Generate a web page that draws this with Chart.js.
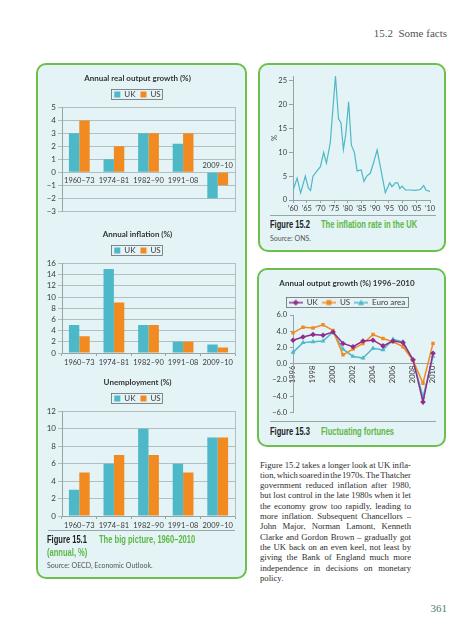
<!DOCTYPE html>
<html><head><meta charset="utf-8">
<script src="https://cdn.jsdelivr.net/npm/chart.js@4.4.1/dist/chart.umd.min.js"></script>
<style>
html,body{margin:0;padding:0;background:#fff;width:476px;height:640px;overflow:hidden;}
body{position:relative;font-family:Lato,"DejaVu Sans",sans-serif;}
.panel{position:absolute;background:#e4f3f5;border:2px solid #6dbf4b;border-radius:10px;box-sizing:border-box;}
canvas{position:absolute;}
.rule{position:absolute;height:0;border-top:1px solid #98a6a8;}
.cap{position:absolute;font-family:"Liberation Sans",Arial,sans-serif;font-weight:bold;font-size:10.5px;line-height:12px;color:#222;white-space:nowrap;transform:scaleX(0.72);transform-origin:0 0;}
.g{color:#5db845;}
.src{position:absolute;font-family:Lato,"DejaVu Sans",sans-serif;font-size:7px;line-height:9px;color:#555;white-space:nowrap;}
.body{position:absolute;left:260px;top:459.5px;width:151px;font-family:"Liberation Serif",serif;font-size:8.7px;line-height:10.33px;color:#2e2e2e;word-spacing:-1.5px;}
.body div{text-align:justify;text-align-last:justify;height:10.33px;}
.body div.last{text-align:left;text-align-last:left;}
</style>
</head><body>
<div style="position:absolute;right:29px;top:26.5px;font-family:'Liberation Serif',serif;font-size:11px;line-height:13px;color:#555;white-space:nowrap;">15.2&nbsp;&nbsp;Some facts</div>

<div class="panel" style="left:36px;top:63px;width:211px;height:516px;"></div>
<div class="panel" style="left:258px;top:63px;width:188px;height:189px;"></div>
<div class="panel" style="left:257px;top:268px;width:189px;height:179px;"></div>

<canvas id="c1" width="202" height="150" style="left:40px;top:68px;"></canvas>
<canvas id="c2" width="202" height="150" style="left:40px;top:224px;"></canvas>
<canvas id="c3" width="202" height="165" style="left:40px;top:372px;"></canvas>
<canvas id="c4" width="180" height="146" style="left:262px;top:68px;"></canvas>
<canvas id="c5" width="185" height="149" style="left:259px;top:271px;"></canvas>

<div class="rule" style="left:48px;top:530px;width:187px;"></div>
<div class="cap" style="left:47px;top:533px;">Figure 15.1</div>
<div class="cap g" style="left:99px;top:533px;">The big picture, 1960–2010</div>
<div class="cap g" style="left:47px;top:546px;">(annual, %)</div>
<div class="src" style="left:47px;top:561px;">Source: OECD, Economic Outlook.</div>

<div class="rule" style="left:270px;top:215px;width:166px;"></div>
<div class="cap" style="left:270px;top:218px;">Figure 15.2</div>
<div class="cap g" style="left:321px;top:218px;">The inflation rate in the UK</div>
<div class="src" style="left:270px;top:233.5px;">Source: ONS.</div>

<div class="rule" style="left:270px;top:421px;width:166px;"></div>
<div class="cap" style="left:270px;top:425px;">Figure 15.3</div>
<div class="cap g" style="left:321px;top:425px;">Fluctuating fortunes</div>

<div class="body">
<div>Figure 15.2 takes a longer look at UK infla-</div>
<div>tion, which soared in the 1970s. The Thatcher</div>
<div>government reduced inflation after 1980,</div>
<div>but lost control in the late 1980s when it let</div>
<div>the economy grow too rapidly, leading to</div>
<div>more inflation. Subsequent Chancellors –</div>
<div>John Major, Norman Lamont, Kenneth</div>
<div>Clarke and Gordon Brown – gradually got</div>
<div>the UK back on an even keel, not least by</div>
<div>giving the Bank of England much more</div>
<div>independence in decisions on monetary</div>
<div class="last">policy.</div>
</div>

<div style="position:absolute;right:29px;top:602px;font-family:'Liberation Serif',serif;font-size:11px;line-height:13px;color:#4e7f64;">361</div>

<script>
// ---- data ----
const periods = ['1960–73', '1974–81', '1982–90', '1991–08', '2009–10'];
const growthUK = [3, 1, 3, 2.2, -2];
const growthUS = [4, 2, 3, 3, -1];
const inflationUK = [5, 15, 5, 2, 1.5];
const inflationUS = [3, 9, 5, 2, 1];
const unempUK = [3, 6, 10, 6, 9];
const unempUS = [5, 7, 7, 5, 9];

const inflYears = [1960, 1961.5, 1962.8, 1964.5, 1965.6, 1966.4, 1967.3, 1968.6, 1970, 1971.2, 1972.2, 1973.6,
  1975.5, 1976.6, 1977.5, 1978.4, 1979.3, 1980.3, 1981.3, 1982.4, 1983.4, 1984.9, 1985.9, 1986.9, 1988.2, 1989.4,
  1990.7, 1993.7, 1995.3, 1996.1, 1997.4, 1998.2, 1999.0, 1999.8, 2001.0, 2002.8, 2004.6, 2006.5, 2007.7, 2008.5, 2010];
const inflRate = [2.0, 4.6, 1.5, 5.0, 2.5, 2.0, 5.0, 6.0, 7.0, 10.0, 7.7, 12.0,
  26.0, 17.0, 16.2, 10.6, 14.0, 20.6, 11.5, 10.0, 6.1, 6.3, 3.9, 5.0, 5.6, 7.8,
  10.5, 1.5, 3.6, 2.8, 3.6, 3.6, 2.4, 2.9, 2.1, 2.1, 2.0, 2.2, 3.0, 2.1, 1.8];

const years9610 = ['1996','1997','1998','1999','2000','2001','2002','2003','2004','2005','2006','2007','2008','2009','2010'];
const ukOutput   = [2.9, 3.3, 3.6, 3.5, 3.9, 2.5, 2.1, 2.8, 2.9, 2.2, 2.8, 2.6, 0.5, -4.7, 1.3];
const usOutput   = [3.8, 4.5, 4.4, 4.8, 4.1, 1.1, 1.8, 2.5, 3.6, 3.1, 2.7, 2.1, 0.4, -2.4, 2.5];
const euroOutput = [1.4, 2.6, 2.7, 2.8, 3.9, 1.8, 0.9, 0.7, 1.9, 1.7, 3.0, 2.7, 0.5, -4.1, 0.9];

// ---- style ----
const F = 'Lato, "DejaVu Sans", sans-serif';
const TEAL = '#4db8c8', ORANGE = '#f18a20', PURPLE = '#8e2d8c';
const GRID = '#b3bec0', AXIS = '#98a3a6', TXT = '#3a3a3a';
Chart.defaults.font.family = F;
const minus = v => (v < 0 ? '\u2212' + Math.abs(v) : String(v));

const legendFrame = {
  id: 'legendFrame',
  afterDraw(chart) {
    const hb = chart.legend && chart.legend.legendHitBoxes;
    if (!hb || !hb.length) return;
    let l = Infinity, r = -Infinity, t = Infinity, b = -Infinity;
    hb.forEach(h => { l = Math.min(l, h.left); r = Math.max(r, h.left + h.width); t = Math.min(t, h.top); b = Math.max(b, h.top + h.height); });
    const ctx = chart.ctx;
    ctx.save();
    ctx.strokeStyle = '#6b6b6b'; ctx.lineWidth = 0.8;
    ctx.strokeRect(Math.round(l - 3) + 0.5, Math.round(t - 1.5) + 0.5, Math.round(r - l + 5), Math.round(b - t + 2));
    ctx.restore();
  }
};

function barChart(id, title, uk, us, min, max, step, zeroAxis) {
  const xScale = zeroAxis ? {
    position: {y: 0},
    grid: {drawOnChartArea: false, drawTicks: false},
    border: {display: false},
    ticks: {font: {size: 7.5}, color: TXT, padding: 4, maxRotation: 0, autoSkip: false,
      callback: (v, i) => (i === periods.length - 1 ? '' : periods[i])}
  } : {
    grid: {drawOnChartArea: false, drawTicks: true, tickLength: 3, color: AXIS},
    border: {display: true, color: AXIS},
    ticks: {font: {size: 7.5}, color: TXT, padding: 2, maxRotation: 0, autoSkip: false},
    afterFit: s => { s.height = 21; }
  };
  const plugins = [legendFrame];
  if (zeroAxis) plugins.push({
    id: 'aboveLabel',
    afterDraw(chart) {
      const ctx = chart.ctx, xs = chart.scales.x, ys = chart.scales.y;
      ctx.save();
      ctx.font = '7.5px ' + F; ctx.fillStyle = TXT; ctx.textAlign = 'center'; ctx.textBaseline = 'middle';
      const i = periods.length - 1;
      ctx.fillText(periods[i], xs.getPixelForValue(i), ys.getPixelForValue(0) - 6.5);
      ctx.restore();
    }
  });
  return new Chart(document.getElementById(id), {
    type: 'bar',
    data: {labels: periods, datasets: [
      {label: 'UK', data: uk, backgroundColor: TEAL, categoryPercentage: 0.6, barPercentage: 1},
      {label: 'US', data: us, backgroundColor: ORANGE, categoryPercentage: 0.6, barPercentage: 1}
    ]},
    options: {
      responsive: false, animation: false,
      layout: {padding: {left: 0, right: 7, top: 0, bottom: zeroAxis ? 5 : 0}},
      plugins: {
        title: {display: true, text: title, font: {size: 8, weight: 'bold'}, color: '#333', padding: {top: 6, bottom: 2}},
        legend: {maxHeight: 21.8, labels: {boxWidth: 6, boxHeight: 6, font: {size: 8}, color: TXT, padding: 5}},
        tooltip: {enabled: false}
      },
      scales: {
        x: xScale,
        y: {min: min, max: max,
          ticks: {stepSize: step, autoSkip: false, font: {size: 8}, color: TXT, padding: 2, callback: v => minus(v)},
          grid: {color: GRID, tickLength: 4},
          border: {color: AXIS},
          afterFit: s => { s.width = 22; }},
        y2: {type: 'linear', position: 'right',
          ticks: {display: false},
          grid: {display: false, drawTicks: false},
          border: {display: true, color: GRID},
          afterFit: s => { s.width = 0; }}
      }
    },
    plugins: plugins
  });
}

barChart('c1', 'Annual real output growth (%)', growthUK, growthUS, -3, 5, 1, true);
barChart('c2', 'Annual inflation (%)', inflationUK, inflationUS, 0, 16, 2, false);
barChart('c3', 'Unemployment (%)', unempUK, unempUS, 0, 12, 2, false);

// ---- Figure 15.2 ----
new Chart(document.getElementById('c4'), {
  type: 'line',
  data: {datasets: [{data: inflYears.map((x, i) => ({x: x, y: inflRate[i]})),
    borderColor: TEAL, borderWidth: 1.2, pointRadius: 0, fill: false, tension: 0}]},
  options: {
    responsive: false, animation: false,
    layout: {padding: {top: 8, right: 12, bottom: 0, left: 0}},
    plugins: {legend: {display: false}, tooltip: {enabled: false}},
    scales: {
      x: {type: 'linear', min: 1960, max: 2010,
        ticks: {stepSize: 5, font: {size: 7.5}, color: TXT, padding: 1, maxRotation: 0, autoSkip: false,
          callback: v => '\u2019' + String(v).slice(2)},
        grid: {drawOnChartArea: false, tickLength: 3, color: AXIS},
        border: {color: AXIS},
        afterFit: s => { s.height = 14; }},
      y: {min: 0, max: 26,
        ticks: {stepSize: 5, includeBounds: false, autoSkip: false, font: {size: 7.5}, color: TXT, padding: 2},
        grid: {drawOnChartArea: false, tickLength: 4, color: AXIS},
        border: {color: AXIS},
        title: {display: true, text: '%', font: {size: 7.5}, color: TXT, padding: {top: 8, bottom: 0}},
        afterFit: s => { s.width = 31; }}
    }
  }
});

// ---- Figure 15.3 ----
function sym(color, shape) {
  const c = document.createElement('canvas'); c.width = 14; c.height = 8;
  const x = c.getContext('2d');
  x.strokeStyle = color; x.lineWidth = 1.4;
  x.beginPath(); x.moveTo(0, 4); x.lineTo(14, 4); x.stroke();
  x.fillStyle = color; x.beginPath();
  if (shape === 'diamond') { x.moveTo(7, 1); x.lineTo(10, 4); x.lineTo(7, 7); x.lineTo(4, 4); }
  else if (shape === 'square') { x.rect(4.5, 1.5, 5, 5); }
  else { x.moveTo(7, 1); x.lineTo(10, 6.5); x.lineTo(4, 6.5); }
  x.closePath(); x.fill();
  return c;
}
const legendSyms = [sym(PURPLE, 'diamond'), sym(ORANGE, 'square'), sym(TEAL, 'triangle')];

new Chart(document.getElementById('c5'), {
  type: 'line',
  data: {labels: years9610, datasets: [
    {label: 'UK', data: ukOutput, borderColor: PURPLE, backgroundColor: PURPLE, borderWidth: 1.5, pointStyle: 'rectRot', pointRadius: 2.8, pointBorderWidth: 0, tension: 0},
    {label: 'US', data: usOutput, borderColor: ORANGE, backgroundColor: ORANGE, borderWidth: 1.5, pointStyle: 'rect', pointRadius: 2.4, pointBorderWidth: 0, tension: 0},
    {label: 'Euro area', data: euroOutput, borderColor: TEAL, backgroundColor: TEAL, borderWidth: 1.5, pointStyle: 'triangle', pointRadius: 2.8, pointBorderWidth: 0, tension: 0}
  ]},
  options: {
    responsive: false, animation: false,
    layout: {padding: {left: 0, right: 9, top: 0, bottom: 7.3}},
    plugins: {
      title: {display: true, text: 'Annual output growth (%) 1996–2010', font: {size: 8, weight: 'bold'}, color: '#333', padding: {top: 8, bottom: 6}},
      legend: {maxHeight: 20.4, labels: {usePointStyle: true, pointStyleWidth: 14, font: {size: 8}, color: TXT, padding: 4,
        generateLabels: chart => {
          const items = Chart.defaults.plugins.legend.labels.generateLabels(chart);
          items.forEach((it, i) => { it.pointStyle = legendSyms[i]; });
          return items;
        }}},
      tooltip: {enabled: false}
    },
    scales: {
      x: {position: {y: 0}, offset: false,
        grid: {drawOnChartArea: false, drawTicks: false},
        border: {display: true, color: AXIS},
        ticks: {autoSkip: false, minRotation: 90, maxRotation: 90, padding: 2, font: {size: 7.5}, color: TXT,
          callback: (v, i) => (i % 2 === 0 ? years9610[i] : '')}},
      y: {min: -6, max: 6,
        ticks: {stepSize: 2, autoSkip: false, font: {size: 7.5}, color: TXT, padding: 3,
          callback: v => (v < 0 ? '\u2212' : '') + Math.abs(v).toFixed(1)},
        grid: {drawOnChartArea: false, tickLength: 3, color: AXIS},
        border: {color: AXIS},
        afterFit: s => { s.width = 34; }}
    }
  },
  plugins: [legendFrame]
});
</script>
</body></html>
